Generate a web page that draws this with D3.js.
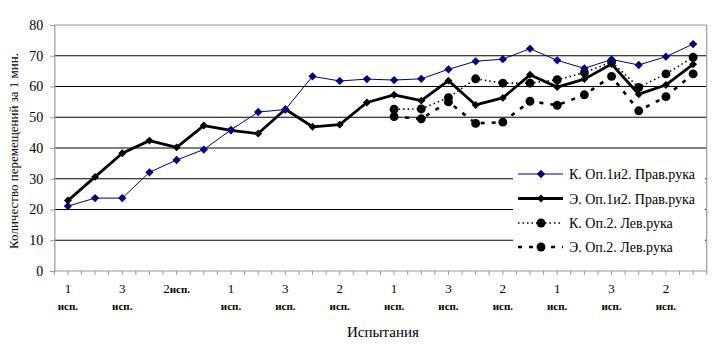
<!DOCTYPE html>
<html><head><meta charset="utf-8">
<script src="https://cdn.jsdelivr.net/npm/d3@7"></script>
<style>body{margin:0;background:#fff}svg{display:block}</style>
</head><body><svg id="c" width="719" height="359"></svg>
<script>
const categories = ["1 исп.","2 исп.","3 исп.","1 исп.","2исп.","3 исп.","1 исп.","2 исп.","3 исп.","1 исп.","2 исп.","3 исп.",
  "1 исп.","2 исп.","3 исп.","1 исп.","2 исп.","3 исп.","1 исп.","2 исп.","3 исп.","1 исп.","2 исп.","3 исп."];
const kRight = [21.1,23.7,23.7,32.1,36.1,39.5,45.9,51.7,52.5,63.3,61.8,62.4,62.1,62.5,65.6,68.2,68.9,72.3,68.5,65.9,68.8,67.0,69.7,73.8];
const eRight = [22.9,30.6,38.3,42.4,40.2,47.3,45.7,44.7,52.6,46.9,47.6,54.8,57.3,55.4,61.9,54.0,56.3,63.8,59.8,62.4,67.3,57.5,60.5,67.2];
const kLeft = [null,null,null,null,null,null,null,null,null,null,null,null,52.6,52.7,56.4,62.5,61.1,61.1,62.2,64.5,68.0,59.7,64.1,69.5];
const eLeft = [null,null,null,null,null,null,null,null,null,null,null,null,50.2,49.5,55.0,48.0,48.4,55.2,53.9,57.3,63.3,52.1,56.7,64.1];
const seriesNames = ["К. Оп.1и2. Прав.рука","Э. Оп.1и2. Прав.рука","К. Оп.2. Лев.рука","Э. Оп.2. Лев.рука"];
const yTicks = [0,10,20,30,40,50,60,70,80];
const yTitle = "Количество перемещений за 1 мин.";
const xTitle = "Испытания";

const FONT = "Liberation Serif";
const svg = d3.select("#c");
const L = 54.3, R = 706.7, T = 25, B = 271;
const x = d3.scaleBand().domain(d3.range(categories.length)).range([L, R]).padding(0);
const cx = i => x(i) + x.bandwidth() / 2;
const y = d3.scaleLinear().domain([0, 80]).range([B, T]);

svg.append("g").selectAll("line").data(yTicks.filter(v => v > 0 && v < 80)).join("line")
  .attr("x1", L).attr("x2", R).attr("y1", d => y(d)).attr("y2", d => y(d))
  .attr("stroke", "#000").attr("stroke-width", 1.2);
svg.append("line").attr("x1", L).attr("x2", R).attr("y1", y(80)).attr("y2", y(80)).attr("stroke", "#999").attr("stroke-width", 1.2);
svg.append("line").attr("x1", R).attr("x2", R).attr("y1", y(80)).attr("y2", y(0)).attr("stroke", "#999").attr("stroke-width", 1.2);

const yAxis = svg.append("g").attr("transform", `translate(${L},0)`)
  .call(d3.axisLeft(y).tickValues(yTicks).tickSize(4).tickPadding(7));
yAxis.attr("font-family", null).attr("font-size", null);
yAxis.select(".domain").attr("stroke", "#999").attr("stroke-width", 1.2);
yAxis.selectAll(".tick line").attr("stroke", "#999");
yAxis.selectAll("text").style("font-size", "14px").attr("fill", "#000").style("font-family", FONT);

svg.append("line").attr("x1", L).attr("x2", R).attr("y1", B).attr("y2", B).attr("stroke", "#999").attr("stroke-width", 1.2);
const half = x.bandwidth() / 2;
svg.append("g").selectAll("line").data(d3.range(categories.length * 2 + 1)).join("line")
  .attr("x1", k => L + k * half).attr("x2", k => L + k * half)
  .attr("y1", B).attr("y2", B + 4).attr("stroke", "#999");
const lab = svg.append("g").selectAll("g").data(d3.range(0, categories.length, 2)).join("g");
lab.each(function(i) {
  const g = d3.select(this);
  const c = categories[i];
  const sp = c.indexOf(" ");
  if (sp > 0) {
    g.append("text").attr("x", cx(i)).attr("y", 293).attr("text-anchor", "middle").style("font-family", FONT).style("font-size", "13px").text(c.slice(0, sp));
    g.append("text").attr("x", cx(i)).attr("y", 310).attr("text-anchor", "middle").style("font-family", FONT).style("font-size", "11px").style("font-weight", "bold").text(c.slice(sp + 1));
  } else {
    const t = g.append("text").attr("x", cx(i)).attr("y", 293).attr("text-anchor", "middle").style("font-family", FONT).style("font-size", "13px");
    t.append("tspan").text(c.slice(0, 1));
    t.append("tspan").style("font-size", "11px").style("font-weight", "bold").text(c.slice(1));
  }
});

svg.append("text").style("font-family", FONT).attr("x", 383).attr("y", 337).attr("text-anchor", "middle").style("font-size", "15px").text(xTitle);
svg.append("text").style("font-family", FONT).attr("transform", "translate(18,151) rotate(-90)").attr("text-anchor", "middle").style("font-size", "13px").text(yTitle);

const data = [kRight, eRight, kLeft, eLeft];
const styles = [
  {stroke: "#000080", width: 1, dash: null, marker: "diamond", size: 44, fill: "#000080"},
  {stroke: "#000", width: 2.8, dash: null, marker: "diamond", size: 40, fill: "#000"},
  {stroke: "#000", width: 1.6, dash: "1.5,3", marker: "circle", size: 62, fill: "#000"},
  {stroke: "#000", width: 2.6, dash: "4,7", marker: "circle", size: 62, fill: "#000"}
];
const line = d3.line().defined(d => d != null).x((d, i) => cx(i)).y(d => y(d));
const sym = s => d3.symbol().type(s.marker === "diamond" ? d3.symbolDiamond2 : d3.symbolCircle).size(s.size);
[3, 2, 1, 0].forEach(k => {
  const s = styles[k];
  svg.append("path").datum(data[k]).attr("d", line).attr("fill", "none")
    .attr("stroke", s.stroke).attr("stroke-width", s.width).attr("stroke-dasharray", s.dash)
    .attr("stroke-linejoin", "round");
  svg.append("g").selectAll("path").data(data[k].map((v, i) => [v, i]).filter(d => d[0] != null)).join("path")
    .attr("transform", d => `translate(${cx(d[1])},${y(d[0])})`)
    .attr("d", sym(s)).attr("fill", s.fill);
});

svg.append("rect").attr("x", 513).attr("y", 162).attr("width", 192).attr("height", 97).attr("fill", "#fff");
const ly = [174, 198.5, 223, 247];
seriesNames.forEach((n, k) => {
  const s = styles[k];
  svg.append("line").attr("x1", 518).attr("x2", 563).attr("y1", ly[k]).attr("y2", ly[k])
    .attr("stroke", s.stroke).attr("stroke-width", s.width).attr("stroke-dasharray", s.dash);
  svg.append("path").attr("transform", `translate(541,${ly[k]})`).attr("d", sym(s)).attr("fill", s.fill);
  svg.append("text").style("font-family", FONT).attr("x", 569).attr("y", ly[k] + 5).style("font-size", "14px").text(n);
});
</script></body></html>
